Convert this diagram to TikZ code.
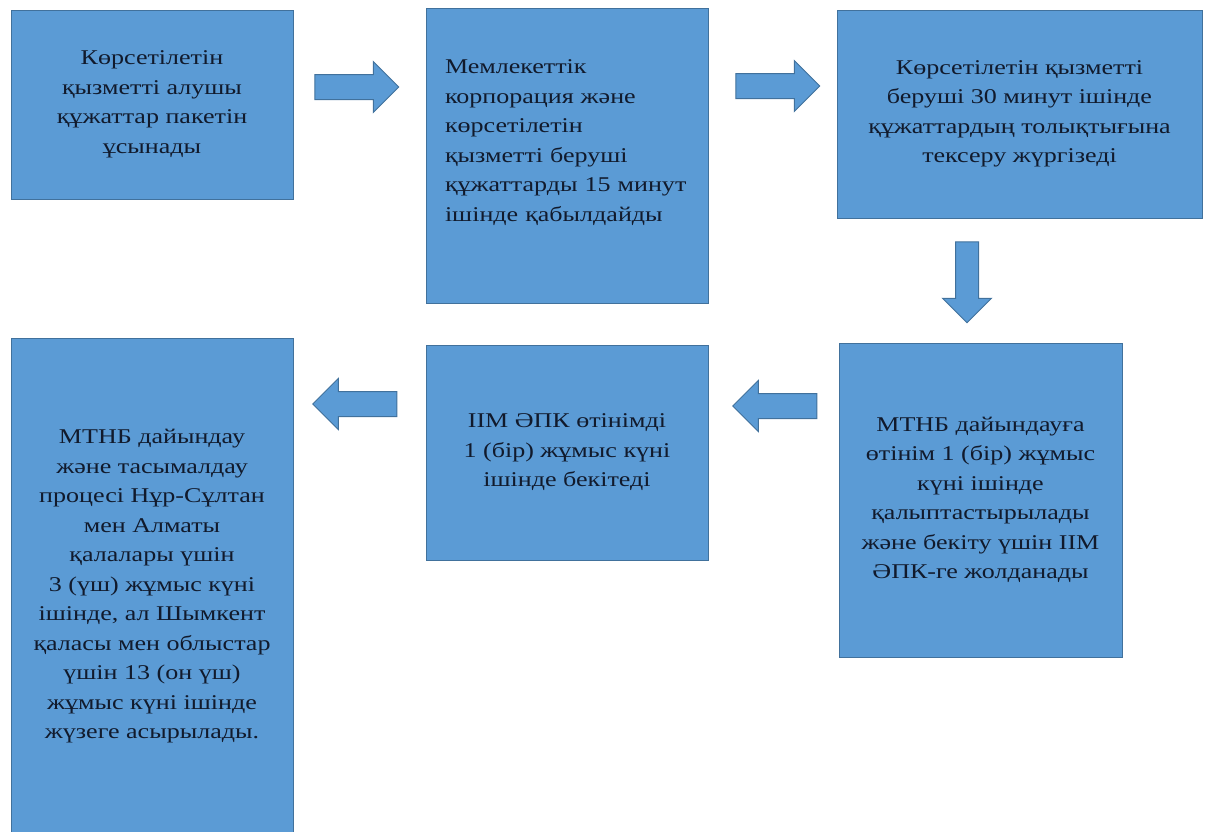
\documentclass[tikz,border=0pt]{standalone}
\usepackage{fontspec}
\setmainfont{Liberation Serif}[FakeStretch=1.24]
\usetikzlibrary{shapes.arrows}
\definecolor{boxblue}{HTML}{5B9BD5}
\definecolor{boxedge}{HTML}{41719C}
\definecolor{boxtext}{HTML}{111A2C}
\tikzset{
  stepbox/.style={draw=boxedge, fill=boxblue, line width=1pt, inner sep=0pt,
    align=center, text=boxtext, font=\fontsize{21}{29.5}\selectfont},
  blockarrow/.style={single arrow, draw=boxedge, fill=boxblue, line width=1pt,
    inner xsep=0pt, inner ysep=12pt, minimum height=84pt,
    single arrow head extend=13pt}
}
\begin{document}
\begin{tikzpicture}[x=1pt,y=-1pt]
  \useasboundingbox (0,0) rectangle (1205,831);

  % top row
  \node[stepbox, minimum width=282pt, minimum height=189pt] (apply) at (152,104.5)
    {Көрсетілетін\\қызметті алушы\\құжаттар пакетін\\ұсынады};
  \node[stepbox, minimum width=282pt, minimum height=295pt, text width=244pt, align=left] (accept) at (567,155.5)
    {Мемлекеттік\\корпорация және\\көрсетілетін\\қызметті беруші\\құжаттарды 15 минут\\ішінде қабылдайды\\\mbox{}};
  \node[stepbox, minimum width=365pt, minimum height=208pt] (check) at (1019.5,114)
    {Көрсетілетін қызметті\\беруші 30 минут ішінде\\құжаттардың толықтығына\\тексеру жүргізеді};

  % bottom row
  \node[stepbox, minimum width=283pt, minimum height=314pt] (request) at (980.5,500)
    {МТНБ дайындауға\\өтінім 1 (бір) жұмыс\\күні ішінде\\қалыптастырылады\\және бекіту үшін ІІМ\\ӘПК-ге жолданады};
  \node[stepbox, minimum width=282pt, minimum height=215pt] (approve) at (567,452.5)
    {ІІМ ӘПК өтінімді\\1 (бір) жұмыс күні\\ішінде бекітеді};
  \node[stepbox, minimum width=282pt, minimum height=497pt] (deliver) at (152,586.5)
    {МТНБ дайындау\\және тасымалдау\\процесі Нұр-Сұлтан\\мен Алматы\\қалалары үшін\\3 (үш) жұмыс күні\\ішінде, ал Шымкент\\қаласы мен облыстар\\үшін 13 (он үш)\\жұмыс күні ішінде\\жүзеге асырылады.};

  % block arrows between the steps
  \node[blockarrow] (apply-accept) at (350.5,87) {};
  \node[blockarrow] (accept-check) at (771.5,86) {};
  \node[blockarrow, shape border rotate=270, minimum height=81pt, inner xsep=11pt, inner ysep=0pt] (check-request) at (967,276.5) {};
  \node[blockarrow, shape border rotate=180] (request-approve) at (781,406) {};
  \node[blockarrow, shape border rotate=180] (approve-deliver) at (361,404) {};
\end{tikzpicture}
\end{document}
